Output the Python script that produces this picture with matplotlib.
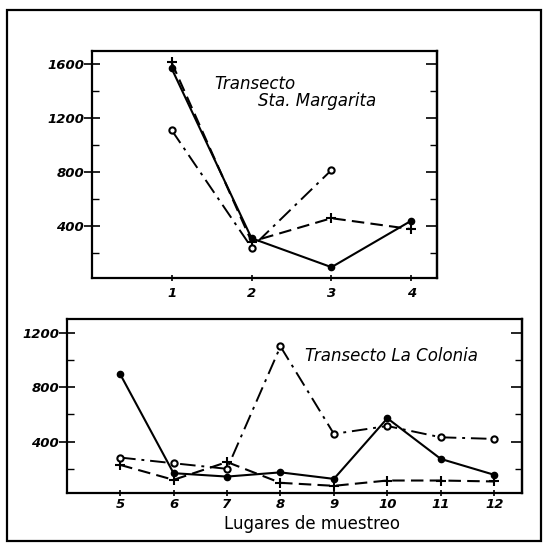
import numpy as np
import matplotlib
matplotlib.use('Agg')
import matplotlib.pyplot as plt
from matplotlib.patches import Rectangle

# Transecto Sta. Margarita (sites 1-4)
sites_top = [1, 2, 3, 4]
solid_top = [1564, 309, 95, 439]
dashed_top = [1608, 284, 457, 376]
dashdot_top = [1108, 240, 813, np.nan]

# Transecto La Colonia (sites 5-12)
sites_bot = [5, 6, 7, 8, 9, 10, 11, 12]
solid_bot = [897, 168, 143, 174, 126, 572, 273, 156]
dashed_bot = [229, 119, 250, 97, 75, 114, 114, 107]
dashdot_bot = [283, 241, 200, 1100, 457, 515, 432, 420]

yticks_top = [400, 800, 1200, 1600]
yticks_bot = [400, 800, 1200]

W, H = 544, 543
fig = plt.figure(figsize=(W / 100, H / 100), dpi=100)

tick_font = dict(fontsize=9.5, fontweight='bold', fontstyle='italic')


def fig_box(x0, y0, x1, y1):
    # pixel box (top-left origin) -> figure fraction rect
    return [x0 / W, 1 - y1 / H, (x1 - x0) / W, (y1 - y0) / H]


def draw_series(ax, x, solid, dashed, dashdot):
    ax.plot(x, solid, color='black', lw=1.5, ls='-', marker='o', ms=4.5,
            mfc='black', mec='black')
    ax.plot(x, dashed, color='black', lw=1.5, ls=(0, (6, 3)), marker='+',
            ms=7, mew=1.5)
    ax.plot(x, dashdot, color='black', lw=1.4, ls=(0, (8, 3, 1.5, 3)),
            marker='o', ms=4.5, mfc='white', mec='black', mew=1.5)


def style_axes(ax, xticks, yticks, minor):
    for s in ax.spines.values():
        s.set_linewidth(1.6)
    ax.set_xticks(xticks)
    ax.set_xticklabels([str(v) for v in xticks], **tick_font)
    ax.set_yticks(yticks)
    ax.set_yticklabels([str(v) for v in yticks], **tick_font)
    ax.set_yticks(minor, minor=True)
    ax.tick_params(axis='y', which='major', direction='inout', length=11,
                   width=1.2, pad=0)
    ax.tick_params(axis='y', which='minor', direction='in', length=5,
                   width=1.0)
    ax.tick_params(axis='x', which='major', direction='inout', length=5,
                   width=1.2, pad=1)
    # right side ticks point inward only
    sec = ax.secondary_yaxis('right')
    sec.set_yticks(yticks)
    sec.set_yticks(minor, minor=True)
    sec.set_yticklabels([])
    sec.spines['right'].set_linewidth(1.6)
    sec.tick_params(which='major', direction='in', length=8, width=1.2)
    sec.tick_params(which='minor', direction='in', length=5, width=1.0)


# Upper panel
ax1 = fig.add_axes(fig_box(91.7, 50.7, 437, 278))
draw_series(ax1, sites_top, solid_top, dashed_top, dashdot_top)
ax1.set_xlim(0, 4.32)
ax1.set_ylim(15, 1695)
style_axes(ax1, sites_top, yticks_top, [200, 600, 1000, 1400])
ax1.tick_params(axis='x', pad=4)

# Lower panel
ax2 = fig.add_axes(fig_box(66.7, 319.3, 522, 493.3))
draw_series(ax2, sites_bot, solid_bot, dashed_bot, dashdot_bot)
ax2.set_xlim(4, 12.52)
ax2.set_ylim(20, 1300)
style_axes(ax2, sites_bot, yticks_bot, [200, 600, 1000])

# Panel titles (placed in axes fraction)
ax1.text((214 - 91.7) / (437 - 91.7), (278 - 89) / (278 - 50.7), 'Transecto',
         transform=ax1.transAxes, fontsize=12, fontstyle='italic',
         va='baseline', ha='left')
ax1.text((258 - 91.7) / (437 - 91.7), (278 - 106) / (278 - 50.7),
         'Sta. Margarita', transform=ax1.transAxes, fontsize=12,
         fontstyle='italic', va='baseline', ha='left')
ax2.text((305 - 66.7) / (522 - 66.7), (493.3 - 361) / (493.3 - 319.3),
         'Transecto La Colonia', transform=ax2.transAxes, fontsize=12,
         fontstyle='italic', va='baseline', ha='left')

# Shared x label
fig.text(311.7 / W, 1 - 524 / H, 'Lugares de muestreo', fontsize=12,
         ha='center', va='center')

# Outer frame
fig.patches.append(Rectangle((7.3 / W, 1 - 541 / H), (541 - 7.3) / W,
                             (541 - 10) / H, transform=fig.transFigure,
                             fill=False, lw=1.6, ec='black'))

plt.savefig('out.png', dpi=100)
